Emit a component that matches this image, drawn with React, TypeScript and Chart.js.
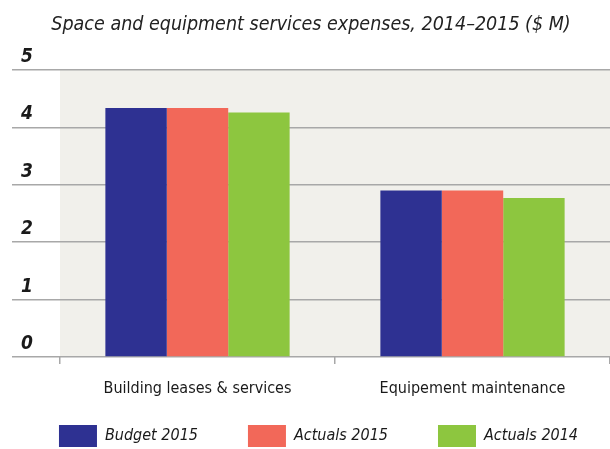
import React, { useEffect, useRef } from 'react';
import { Chart, registerables } from 'chart.js';

Chart.register(...registerables);

const categories = ['Building leases & services', 'Equipement maintenance'];
const seriesLabels = ['Budget 2015', 'Actuals 2015', 'Actuals 2014'];
const budget2015 = [4.34, 2.9];
const actuals2015 = [4.34, 2.9];
const actuals2014 = [4.26, 2.77];
const yTickLabels = ['0', '1', '2', '3', '4', '5'];
const titleText = 'Space and equipment services expenses, 2014\u20132015 ($ M)';

const FONT = "'DejaVu Sans Condensed', 'Roboto', sans-serif";
const COLORS = ['#2e3192', '#f26859', '#8dc63f'];

const plotBg = {
  id: 'plotBg',
  beforeDraw(chart: any) {
    const { ctx, chartArea } = chart;
    ctx.save();
    ctx.fillStyle = '#ffffff';
    ctx.fillRect(0, 0, chart.width, chart.height);
    ctx.fillStyle = '#f1f0eb';
    ctx.fillRect(chartArea.left, chartArea.top, chartArea.right - chartArea.left, chartArea.bottom - chartArea.top);
    ctx.restore();
  },
};

// keep the legend on a single row, centred where the reference has it
const placeLegend = {
  id: 'placeLegend',
  afterLayout(chart: any) {
    const lg = chart.legend;
    if (lg && lg.lineWidths) {
      const total = lg.lineWidths.reduce((a: number, b: number) => a + b, 0);
      lg.lineWidths = [total];
      lg.right = 700;
      lg.left = 637 - 700;
      lg.top = 375;
      lg.bottom = 449;
    }
  },
};

export default function App() {
  const canvasRef = useRef<HTMLCanvasElement | null>(null);

  useEffect(() => {
    if (!canvasRef.current) return;
    const chart = new Chart(canvasRef.current, {
      type: 'bar',
      data: {
        labels: categories,
        datasets: [
          { label: seriesLabels[0], data: budget2015, backgroundColor: COLORS[0], borderWidth: 0 },
          { label: seriesLabels[1], data: actuals2015, backgroundColor: COLORS[1], borderWidth: 0 },
          { label: seriesLabels[2], data: actuals2014, backgroundColor: COLORS[2], borderWidth: 0 },
        ],
      },
      options: {
        animation: false,
        responsive: true,
        maintainAspectRatio: false,
        datasets: { bar: { categoryPercentage: 0.67, barPercentage: 1.0 } },
        layout: { padding: { left: 12, right: 0, top: 0, bottom: 0 } },
        plugins: {
          title: {
            display: true,
            text: titleText,
            color: '#222222',
            font: { family: FONT, size: 19.5, style: 'italic', weight: 'normal' },
            padding: { top: 13, bottom: 33.6 },
          },
          legend: {
            position: 'bottom',
            maxHeight: 40,
            labels: {
              boxWidth: 38,
              boxHeight: 22,
              padding: 50,
              color: '#1a1a1a',
              font: { family: FONT, size: 16, style: 'italic' },
            },
          },
          tooltip: { enabled: false },
        },
        scales: {
          x: {
            offset: true,
            grid: { offset: true, drawOnChartArea: false, tickLength: 7, color: '#a8a8a8', lineWidth: 1.5 },
            border: { display: false },
            ticks: {
              padding: 15,
              maxRotation: 0,
              minRotation: 0,
              autoSkip: false,
              color: '#1a1a1a',
              font: { family: FONT, size: 16 },
            },
            afterFit(scale: any) {
              scale.height = 52;
            },
          },
          y: {
            min: 0,
            max: 5,
            ticks: {
              stepSize: 1,
              crossAlign: 'near',
              labelOffset: -13,
              padding: -21,
              color: '#1a1a1a',
              font: { family: FONT, size: 19, weight: 'bold', style: 'italic' },
              callback: (_v: any, i: number) => yTickLabels[i],
            },
            grid: { color: '#a8a8a8', lineWidth: 1.5, tickLength: 48 },
            border: { display: false },
            afterFit(scale: any) {
              scale.width = 48;
            },
          },
        },
      },
      plugins: [plotBg, placeLegend],
    } as any);
    return () => chart.destroy();
  }, []);

  return (
    <div style={{ position: 'absolute', left: 0, top: 0, width: 610, height: 449 }}>
      <canvas ref={canvasRef} />
    </div>
  );
}
